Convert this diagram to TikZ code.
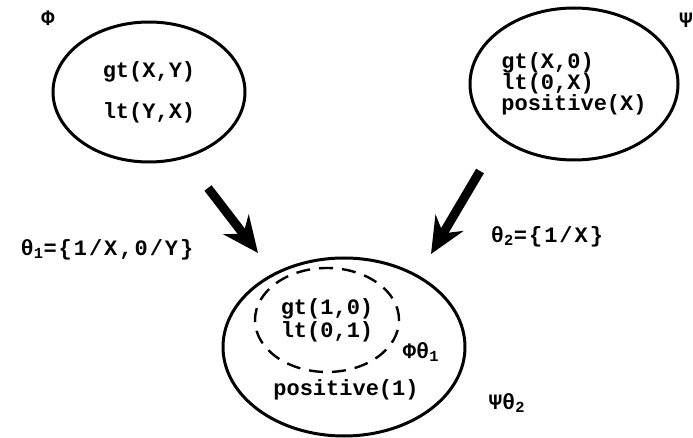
\documentclass[tikz,border=0pt]{standalone}
\usepackage{fontspec}
\setmonofont{Liberation Mono}
\newfontfamily\spacedmono[LetterSpace=9]{Liberation Mono}
\usepackage{tikz}
\usetikzlibrary{shapes.geometric, arrows.meta, positioning}

\begin{document}
\begin{tikzpicture}[
    x=1pt, y=-1pt,
    set/.style={ellipse, draw=black, line width=3pt, inner sep=0pt, align=center, font=\ttfamily\bfseries\fontsize{22}{21}\selectfont},
    subset/.style={set, dash pattern=on 14pt off 9pt, line width=2.4pt},
    term/.style={inner sep=0pt, font=\ttfamily\bfseries\fontsize{22}{21}\selectfont},
    subst/.style={inner sep=0pt, font=\spacedmono\bfseries\fontsize{22}{21}\selectfont},
    arrow/.style={line width=9pt, -{Stealth[length=36pt, width=32pt, inset=12pt]}}
]
    \useasboundingbox (0,0) rectangle (693,438);

    % Clause sets
    \node (phi) [set, minimum width=192pt, minimum height=140pt] at (149,92) {gt(X,Y)\\[20pt]lt(Y,X)};
    \node (psi) [set, align=left, minimum width=208pt, minimum height=152pt] at (574,84) {gt(X,0)\\lt(0,X)\\positive(X)};
    \node (world) [set, minimum width=242pt, minimum height=178pt] at (344,347) {};
    \node (inst) [subset, align=left, minimum width=144pt, minimum height=104pt] at (327,320) {gt(1,0)\\[2pt]lt(0,1)};
    \node (pos) [term, anchor=base] at (346,395) {positive(1)};

    % Names
    \node (phiname) [term] at (48,18) {Φ};
    \node (psiname) [term] at (686,20) {Ψ};
    \node (phisub) [term] at (421,352) {Φθ\textsubscript{1}};
    \node (psisub) [term] at (507,403) {Ψθ\textsubscript{2}};

    % Substitutions
    \node (th1) [subst] at (107,250) {θ\textsubscript{1}=\{1/X,0/Y\}};
    \node (th2) [subst] at (547,237) {θ\textsubscript{2}=\{1/X\}};

    \coordinate (a1s) at (208,188);
    \coordinate (a1e) at (258,253);
    \coordinate (a2s) at (480,171);
    \coordinate (a2e) at (431,254);
    \draw [arrow] (a1s) -- (a1e);
    \draw [arrow] (a2s) -- (a2e);
\end{tikzpicture}
\end{document}
